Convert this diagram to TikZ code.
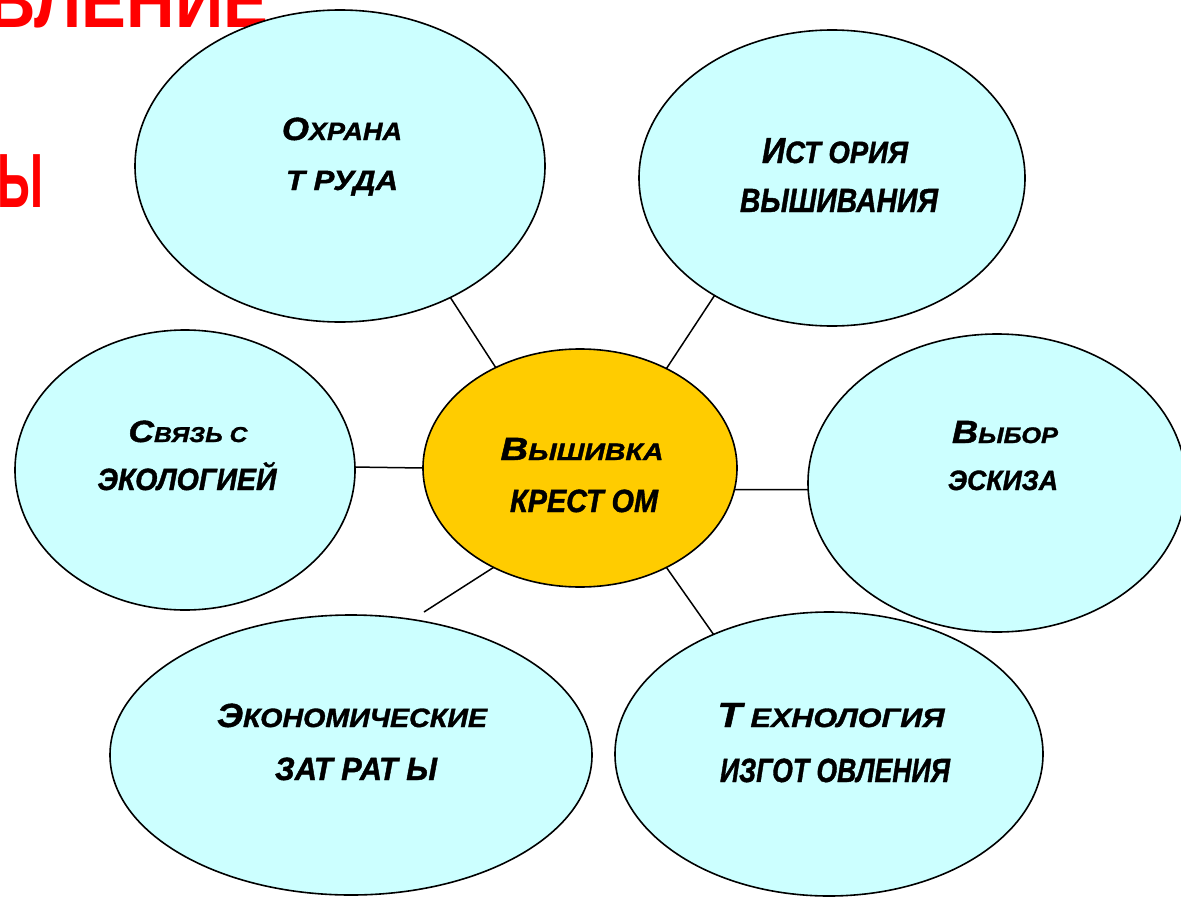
\documentclass[tikz,border=0pt]{standalone}
\usepackage{fontspec}
\setmainfont{Liberation Sans}
\newfontfamily\lblfamily{Liberation Sans}[BoldItalicFeatures={FakeBold=1.3}]
\usepackage{graphicx}
\usetikzlibrary{shapes.geometric}
\definecolor{bubble}{HTML}{CCFFFF}
\definecolor{core}{HTML}{FFCC00}
\definecolor{headred}{HTML}{FF0000}
% #1 width px, #2 cap height px, #3 small size (pt, big = 10), #4 first letter, #5 rest
\newcommand\capln[5]{\resizebox{#1pt}{#2pt}{\smash{\fontsize{10}{12}\selectfont #4\fontsize{#3}{12}\selectfont #5}\rule{0pt}{7.16pt}}}
\newcommand\redln[3]{\resizebox{#1pt}{#2pt}{\smash{\fontsize{10}{12}\selectfont #3}\rule{0pt}{7.16pt}}}
\begin{document}
\begin{tikzpicture}[x=1pt,y=-1pt,
  bub/.style={ellipse,draw=black,line width=1.6pt,fill=bubble,inner sep=0pt,outer sep=0pt},
  corebub/.style={bub,fill=core},
  link/.style={draw=black,line width=1.5pt},
  lbl/.style={anchor=base,inner sep=0pt,outer sep=0pt,font=\lblfamily\bfseries\itshape},
  redtxt/.style={inner sep=0pt,outer sep=0pt,text=headred,font=\bfseries}]
\useasboundingbox (0,0) rectangle (1181,897);
\fill[white] (0,0) rectangle (1181,897);
% heading fragments
\node[redtxt,anchor=base east] (h1) at (268,27) {\redln{280}{55}{ВЛЕНИЕ}};
\node[redtxt,anchor=base west] (h2) at (-2,207) {\redln{46}{55}{Ы}};
% bubbles
\node[bub,minimum width=410pt,minimum height=312pt] (e1) at (340,166) {};
\node[bub,minimum width=386pt,minimum height=296pt] (e2) at (832,178) {};
\node[bub,minimum width=340pt,minimum height=280pt] (e3) at (185,470) {};
\node[corebub,minimum width=314pt,minimum height=238pt] (c) at (580,468) {};
\node[bub,minimum width=378pt,minimum height=298pt] (e5) at (997,483) {};
\node[bub,minimum width=482pt,minimum height=280pt] (e6) at (351,755) {};
\node[bub,minimum width=428pt,minimum height=284pt] (e7) at (829,754) {};
% connectors
\coordinate (free5) at (424,612);
\path[link] (c.130.9) -- (e1.-50.9);
\path[link] (c.49.1) -- (e2.225.7);
\path[link] (c.180.4) -- (e3.1.2);
\path[link] (c.-8.7) -- (e5.182.7);
\path[link] (c.229.1) -- (free5);
\path[link] (c.-49.1) -- (e7.134.8);
% labels
\node[lbl] (t1a) at (342,140) {\capln{120}{23}{7.8}{О}{ХРАНА}};
\node[lbl] (t1b) at (342,190) {\capln{112}{20}{10}{}{Т РУДА}};
\node[lbl] (t2a) at (835,163) {\capln{146}{26}{8.5}{И}{СТ ОРИЯ}};
\node[lbl] (t2b) at (839,212) {\capln{198}{24}{10}{}{ВЫШИВАНИЯ}};
\node[lbl] (t3a) at (188,442) {\capln{119}{22}{7}{С}{ВЯЗЬ С}};
\node[lbl] (t3b) at (187,490) {\capln{179}{22}{10}{}{ЭКОЛОГИЕЙ}};
\node[lbl] (t4a) at (582,460) {\capln{163}{23}{7.4}{В}{ЫШИВКА}};
\node[lbl] (t4b) at (584,512) {\capln{148}{23}{10}{}{КРЕСТ ОМ}};
\node[lbl] (t5a) at (1005,443) {\capln{106}{23}{7}{В}{ЫБОР}};
\node[lbl] (t5b) at (1003,490) {\capln{110}{20}{10}{}{ЭСКИЗА}};
\node[lbl] (t6a) at (352,727) {\capln{270}{24}{7.9}{Э}{КОНОМИЧЕСКИЕ}};
\node[lbl] (t6b) at (356,780) {\capln{162}{23}{10}{}{ЗАТ РАТ Ы}};
\node[lbl] (t7a) at (831,727) {\capln{227}{25}{7.6}{Т}{ ЕХНОЛОГИЯ}};
\node[lbl] (t7b) at (835,782) {\capln{230}{24}{10}{}{ИЗГОТ ОВЛЕНИЯ}};
\end{tikzpicture}
\end{document}
